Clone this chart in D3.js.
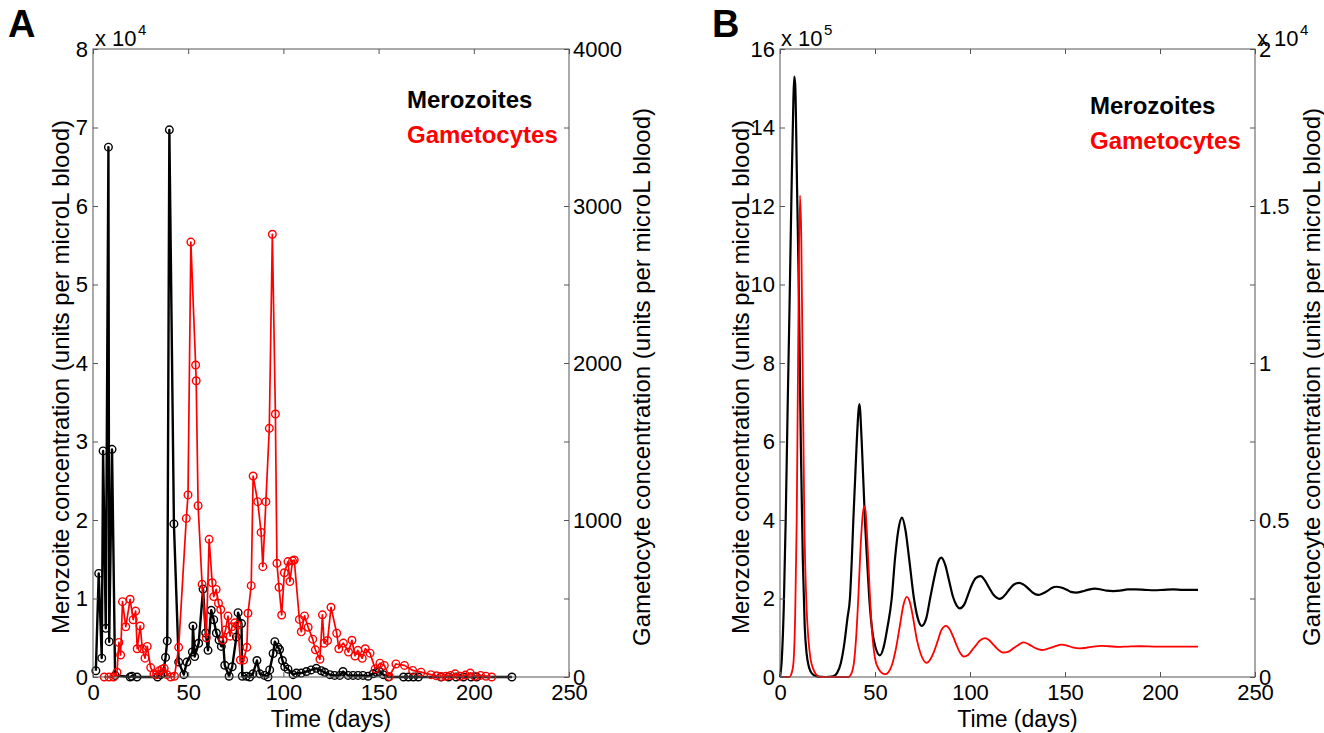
<!DOCTYPE html>
<html><head><meta charset="utf-8">
<script src="https://cdn.jsdelivr.net/npm/d3@7"></script>
<style>body{margin:0;background:#fff} svg{display:block} text{font-family:"Liberation Sans",Arial,Helvetica,sans-serif}</style>
</head><body><svg id="c" width="1324" height="733"></svg>
<script>
// ---------- Panel A data (observed) ----------
const merozA_days = [1.5,3.0,4.6,5.3,6.7,8.1,8.5,10.0,11.6,19.5,20.4,23.1,33.9,35.6,36.9,38.1,39.0,40.1,42.5,45.0,47.7,49.3,52.2,52.5,53.4,55.5,57.8,59.2,60.4,62.1,63.4,64.8,66.2,67.4,68.3,69.2,71.5,73.1,75.3,76.2,78.0,78.4,80.6,82.3,84.0,86.1,87.6,90.1,91.9,92.8,94.6,95.5,97.1,98.0,99.5,100.7,102.4,105.1,106.8,109.4,112.1,114.6,117.3,119.9,121.7,124.4,126.9,129.6,131.3,134.0,136.6,139.2,141.8,144.5,147.1,148.9,150.4,152.4,155.2,163.1,165.7,168.3,170.9,182.8,186.8,190.7,194.6,198.6,201.5,220];
const merozA_vals = [0.08,1.32,0.24,2.88,0.62,6.75,0.45,2.9,0.02,0,0.01,0,0,0.03,0.05,0.25,0.46,6.97,1.95,0.19,0.03,0.19,0.32,0.65,0.26,0.43,1.12,0.56,0.34,0.85,0.73,0.56,0.47,0.39,0.47,0.15,0.01,0.13,0.51,0.82,0.68,0.01,0.01,0,0.04,0.21,0.04,0.02,0,0.09,0.3,0.45,0.38,0.35,0.21,0.13,0.1,0.03,0.05,0.05,0.07,0.09,0.11,0.08,0.06,0.03,0.02,0.02,0.07,0.02,0.02,0.02,0.02,0.01,0.04,0.06,0.07,0.03,0,0,0,0,0,0,0,0,0,0,0,0];
const gametA_days = [5.9,8.4,10.8,12.6,13.6,14.5,15.5,17.2,19.5,21.1,22.4,23.2,24.8,25.9,27.3,28.5,30.3,32.0,33.4,34.9,36.2,37.4,38.8,40.8,42.8,45.0,49.0,49.9,51.4,53.9,54.2,55.2,57.3,59.5,61.0,62.6,63.4,64.7,65.9,67.1,68.2,69.6,70.9,72.0,73.0,74.5,76.0,77.4,79.1,80.8,81.4,83.1,84.1,86.5,88.3,89.2,90.8,92.6,94.2,95.8,96.6,97.7,99.1,100.5,102.4,103.4,104.8,105.7,108.4,109.4,111.1,113.0,115.4,116.8,119.2,120.5,121.4,123.2,125.0,128.0,129.1,131.5,134.2,136.0,137.6,139.1,141.4,143.0,145.5,148.2,150.7,153.0,155.6,159.1,163.6,167.9,172.3,177.5,180.4,182.8,185.3,187.8,190.2,192.7,195.6,198.1,200.5,203.5,206.4,209.4];
const gametA_vals = [0,0,0,30,220,140,480,320,495,365,420,180,325,180,120,195,60,20,15,40,50,55,15,0,5,189,1010,1160,2770,1987,1887,1091,590,250,877,600,512,558,470,430,236,300,388,260,320,345,330,108,108,189,406,582,1280,1117,921,703,1117,1584,2820,1675,724,571,395,664,735,608,740,745,367,288,389,317,241,173,113,396,215,232,444,279,180,216,159,234,134,170,119,180,152,52,88,74,3,83,74,42,31,15,8,3,5,10,20,5,12,25,5,10,5,0];

// ---------- Panel B data (model) ----------
const merozB_days = [0,1,2,3,4,5,6,7,7.5,8,9,10,11,12,13,14,15,16,18,20,24,28,30,32,34,35.5,36.8,37.8,38.6,39.5,40.4,41.8,43,44.7,45.8,47,48.5,50,52.6,54.5,56.5,58.8,60.5,62.3,64.2,66,68,70.5,72.5,74.6,77,79,81.5,83,84.9,87,89,91,93,94.7,97,99,101,103,105.6,108,110,112,114,115.4,117,119,121,123,125.9,128,131,133,135.9,138,141,143,145.6,148,151,153,156,159,162,165.8,169,172,175.4,179,183,187,192,197,202,207,212,216,220];
const merozB_vals = [0,0.5,1.8,4.0,6.8,9.4,12.2,14.6,15.3,15.1,12.4,9.6,5.8,3.0,1.3,0.6,0.3,0.15,0.04,0.01,0,0.02,0.1,0.35,0.9,1.5,2.0,3.0,4.0,5.0,6.0,6.95,6.0,4.0,3.0,2.0,1.2,0.8,0.55,0.75,1.25,2.0,3.0,3.75,4.06,3.75,3.0,2.0,1.5,1.3,1.5,2.0,2.6,2.9,3.04,2.85,2.45,2.05,1.82,1.75,1.85,2.1,2.35,2.52,2.57,2.45,2.28,2.12,2.02,1.99,2.02,2.12,2.25,2.35,2.4,2.36,2.24,2.15,2.09,2.12,2.2,2.27,2.3,2.28,2.22,2.17,2.15,2.18,2.22,2.25,2.23,2.2,2.19,2.2,2.23,2.23,2.22,2.21,2.22,2.23,2.22,2.22,2.22];
const gametB_days = [0,5,6,7,8,8.8,9.5,10.5,11.2,11.9,12.8,14,14.9,16,17.5,19,21,36,37.5,39,40,41.2,42.3,43.3,44.2,45,46,47.4,48.5,50,52,55.3,57,59,61,63,65,66.7,68.5,70,72,74,77.2,79,81,83,85,87.4,89.5,91,93,95,96.8,99,101,103,105,107.9,110,112,114,117.5,120,123,125,128.1,131,134,137.7,141,145,148.2,151,154,157.9,161,165,169,173,178,183,190,197,205,212,220];
const gametB_vals = [0,0,0.01,0.04,0.2,0.5,1.0,1.534,1.4,1.0,0.5,0.22,0.125,0.06,0.025,0.008,0,0,0.01,0.05,0.12,0.25,0.4,0.5,0.544,0.53,0.43,0.25,0.14,0.06,0.025,0.009,0.015,0.04,0.09,0.16,0.23,0.255,0.235,0.19,0.12,0.075,0.045,0.055,0.08,0.115,0.15,0.163,0.15,0.13,0.1,0.075,0.065,0.07,0.085,0.1,0.115,0.124,0.118,0.105,0.092,0.078,0.08,0.092,0.1,0.11,0.104,0.093,0.086,0.09,0.098,0.103,0.1,0.094,0.091,0.093,0.097,0.099,0.098,0.096,0.097,0.098,0.097,0.097,0.097,0.097];

// ---------- Tick definitions ----------
const xTicks = [0,50,100,150,200,250];
const leftTicksA = [0,1,2,3,4,5,6,7,8];
const rightTicksA = [0,500,1000,1500,2000,2500,3000,3500,4000];
const rightLabelsA = [0,1000,2000,3000,4000];
const leftTicksB = [0,2,4,6,8,10,12,14,16];
const rightTicksB = [0,0.25,0.5,0.75,1,1.25,1.5,1.75,2];
const rightLabelsB = [0,0.5,1,1.5,2];

const svg = d3.select("#c");
const FS = 22;
const TOP = 49, BOT = 677;

function panel(cfg){
  const g = svg.append("g");
  const x = d3.scaleLinear().domain([0,250]).range([cfg.x0,cfg.x1]);
  const yl = d3.scaleLinear().domain([0,cfg.lmax]).range([BOT,TOP]);
  const yr = d3.scaleLinear().domain([0,cfg.rmax]).range([BOT,TOP]);

  const lineL = d3.line().x((d,i)=>x(cfg.ld[i])).y(d=>yl(d));
  const lineR = d3.line().x((d,i)=>x(cfg.rd[i])).y(d=>yr(d));
  if(cfg.smooth){ lineL.curve(d3.curveMonotoneX); lineR.curve(d3.curveMonotoneX); }
  g.append("path").attr("d",lineL(cfg.lv)).attr("fill","none").attr("stroke","#000").attr("stroke-width",cfg.lw).attr("stroke-linejoin","round");
  if(cfg.markers){
    g.selectAll(".mb").data(cfg.lv).enter().append("circle")
      .attr("cx",(d,i)=>x(cfg.ld[i])).attr("cy",d=>yl(d)).attr("r",3.8)
      .attr("fill","none").attr("stroke","#000").attr("stroke-width",1.4);
  }
  g.append("path").attr("d",lineR(cfg.rv)).attr("fill","none").attr("stroke","#ff0000").attr("stroke-width",cfg.rw).attr("stroke-linejoin","round");
  if(cfg.markers){
    g.selectAll(".mr").data(cfg.rv).enter().append("circle")
      .attr("cx",(d,i)=>x(cfg.rd[i])).attr("cy",d=>yr(d)).attr("r",3.8)
      .attr("fill","none").attr("stroke","#ff0000").attr("stroke-width",1.4);
  }

  g.append("rect").attr("x",cfg.x0).attr("y",TOP).attr("width",cfg.x1-cfg.x0).attr("height",BOT-TOP)
    .attr("fill","none").attr("stroke","#555").attr("stroke-width",1);

  const styleAxis = sel => {
    sel.select(".domain").remove();
    sel.selectAll("line").attr("stroke","#555");
    sel.selectAll("text").attr("font-size",FS).attr("fill","#000").attr("font-family","Liberation Sans, Arial, sans-serif");
  };
  g.append("g").attr("transform",`translate(0,${BOT})`)
    .call(d3.axisBottom(x).tickValues(xTicks).tickSize(-5).tickPadding(7).tickFormat(d3.format("d"))).call(styleAxis);
  g.append("g").attr("transform",`translate(0,${TOP})`)
    .call(d3.axisTop(x).tickValues(xTicks).tickSize(-5).tickFormat("")).call(styleAxis);
  g.append("g").attr("transform",`translate(${cfg.x0},0)`)
    .call(d3.axisLeft(yl).tickValues(cfg.lt).tickSize(-5).tickPadding(5).tickFormat(d3.format("d"))).call(styleAxis);
  g.append("g").attr("transform",`translate(${cfg.x1},0)`)
    .call(d3.axisRight(yr).tickValues(cfg.rt).tickSize(-5).tickPadding(4)
      .tickFormat(d=>cfg.rl.includes(d)?String(d):"")).call(styleAxis);

  g.append("text").attr("x",(cfg.x0+cfg.x1)/2).attr("y",727).attr("text-anchor","middle")
    .attr("font-size",23).text("Time (days)");
  g.append("text").attr("transform",`translate(${cfg.lyx},377) rotate(-90)`)
    .attr("text-anchor","middle").attr("dominant-baseline","central").attr("font-size",24).text(cfg.ltitle);
  g.append("text").attr("transform",`translate(${cfg.ryx},377) rotate(-90)`)
    .attr("text-anchor","middle").attr("dominant-baseline","central").attr("font-size",24).text(cfg.rtitle);

  cfg.exps.forEach(e=>{
    g.append("text").attr("x",e.x).attr("y",46).attr("font-size",FS).text("x 10");
    g.append("text").attr("x",e.x+43).attr("y",35).attr("font-size",15).text(e.p);
  });

  g.append("text").attr("x",cfg.legx).attr("y",cfg.legy).attr("font-size",24).attr("font-weight","bold").attr("fill","#000").text("Merozoites");
  g.append("text").attr("x",cfg.legx).attr("y",cfg.legy+35).attr("font-size",24).attr("font-weight","bold").attr("fill","#ff0000").text("Gametocytes");

  g.append("text").attr("x",cfg.letx).attr("y",37).attr("font-size",38).attr("font-weight","bold").text(cfg.letter);
}

panel({x0:93,x1:569,lmax:8,rmax:4000,ld:merozA_days,lv:merozA_vals,rd:gametA_days,rv:gametA_vals,
  lw:2.4,rw:1.7,markers:true,smooth:false,lt:leftTicksA,rt:rightTicksA,rl:rightLabelsA,
  lyx:60,ryx:641,ltitle:"Merozoite concentration (units per microL blood)",
  rtitle:"Gametocyte concentration (units per microL blood)",
  exps:[{x:95,p:"4"}],legx:407,legy:108,letx:8,letter:"A"});

panel({x0:780,x1:1255,lmax:16,rmax:2,ld:merozB_days,lv:merozB_vals,rd:gametB_days,rv:gametB_vals,
  lw:2.2,rw:1.8,markers:false,smooth:true,lt:leftTicksB,rt:rightTicksB,rl:rightLabelsB,
  lyx:740,ryx:1311,ltitle:"Merozoite concentration (units per microL blood)",
  rtitle:"Gametocyte concentration (units per microL blood)",
  exps:[{x:781,p:"5"},{x:1257,p:"4"}],legx:1090,legy:114,letx:712,letter:"B"});
</script></body></html>
